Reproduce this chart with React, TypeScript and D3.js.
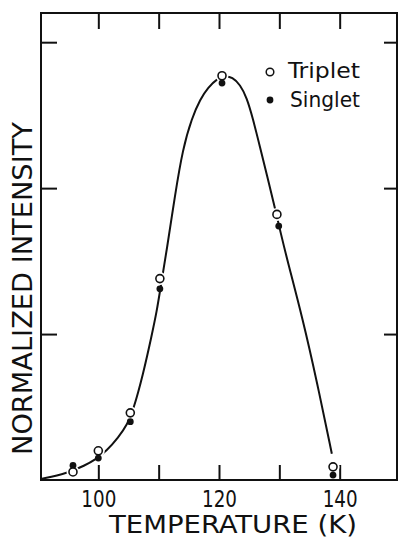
import React, { useEffect, useRef } from 'react';
import * as d3 from 'd3';

// measured points (temperature in K, normalized intensity)
const tripletTemps = [95.8, 100, 105.3, 110.2, 120.5, 129.6, 138.9];
const tripletValues = [0.055, 0.2, 0.46, 1.38, 2.77, 1.82, 0.09];
const singletTemps = [95.8, 100, 105.3, 110.2, 120.5, 129.9, 138.9];
const singletValues = [0.1, 0.15, 0.4, 1.31, 2.72, 1.74, 0.034];

// hand-drawn guide curve
const fitTemps = [90.5, 94.8, 97.8, 99.5, 101.4, 103.3, 104.8, 105.8, 107.4, 108.9, 109.7, 110.2, 111.4, 112.7, 114.0, 115.5, 116.9, 118.2, 119.7, 121.0, 122.2, 123.5, 124.6, 125.6, 126.8, 128.0, 129.0, 130.3, 131.3, 133.9, 136.2, 138.7];
const fitValues = [0.007, 0.045, 0.1, 0.14, 0.2, 0.29, 0.38, 0.48, 0.72, 1.0, 1.16, 1.29, 1.59, 1.95, 2.27, 2.48, 2.61, 2.69, 2.75, 2.77, 2.76, 2.71, 2.62, 2.48, 2.28, 2.08, 1.91, 1.68, 1.51, 1.1, 0.68, 0.18];

const xTicks = [100, 110, 120, 130, 140];
const xTickLabels = ['100', '', '120', '', '140'];
const yTicks = [1, 2, 3];

const W = 399;
const H = 540;
const FONT = '"DejaVu Sans Condensed", "DejaVu Sans", sans-serif';

const App: React.FC = () => {
  const svgRef = useRef<SVGSVGElement>(null);

  useEffect(() => {
    if (!svgRef.current) return;
    const svg = d3.select(svgRef.current);
    svg.selectAll('*').remove();

    const left = 41, right = 397, top = 13, bottom = 480;
    const x = d3.scaleLinear().domain([90.5, 149.5]).range([left, right]);
    const y = d3.scaleLinear().domain([0, 3.2]).range([bottom, top]);

    // frame
    svg.append('rect')
      .attr('x', left).attr('y', top)
      .attr('width', right - left).attr('height', bottom - top)
      .attr('fill', 'none').attr('stroke', '#111').attr('stroke-width', 2);

    const styleAxis = (g: d3.Selection<SVGGElement, unknown, null, undefined>) => {
      g.select('.domain').remove();
      g.selectAll('.tick line').attr('stroke', '#111').attr('stroke-width', 2);
    };

    // bottom axis with inward ticks
    const xb = svg.append('g')
      .attr('transform', `translate(0,${bottom})`)
      .call(d3.axisBottom(x).tickValues(xTicks).tickSizeInner(-15).tickSizeOuter(0)
        .tickFormat((d, i) => xTickLabels[i]));
    styleAxis(xb);
    xb.selectAll('.tick text')
      .attr('y', 27).attr('dy', 0)
      .attr('font-family', FONT).attr('font-size', 23).attr('fill', '#111')
      .attr('textLength', function () { return (this as SVGTextElement).textContent ? 35 : null; })
      .attr('lengthAdjust', 'spacingAndGlyphs');

    const xt = svg.append('g')
      .attr('transform', `translate(0,${top})`)
      .call(d3.axisTop(x).tickValues(xTicks).tickSizeInner(-16).tickSizeOuter(0).tickFormat(() => ''));
    styleAxis(xt);

    const yl = svg.append('g')
      .attr('transform', `translate(${left},0)`)
      .call(d3.axisLeft(y).tickValues(yTicks).tickSizeInner(-16).tickSizeOuter(0).tickFormat(() => ''));
    styleAxis(yl);

    const yr = svg.append('g')
      .attr('transform', `translate(${right},0)`)
      .call(d3.axisRight(y).tickValues(yTicks).tickSizeInner(-13).tickSizeOuter(0).tickFormat(() => ''));
    styleAxis(yr);

    // curve
    const fit = fitTemps.map((t, i) => [t, fitValues[i]] as [number, number]);
    const line = d3.line<[number, number]>()
      .x(d => x(d[0])).y(d => y(d[1]))
      .curve(d3.curveBasis);
    svg.append('path')
      .attr('d', line(fit))
      .attr('fill', 'none').attr('stroke', '#111').attr('stroke-width', 2);

    // white gaps around the open markers
    svg.append('g').selectAll('circle')
      .data(tripletTemps.map((t, i) => [t, tripletValues[i]]))
      .enter().append('circle')
      .attr('cx', d => x(d[0])).attr('cy', d => y(d[1]))
      .attr('r', 6.5).attr('fill', '#fff');

    svg.append('g').selectAll('circle')
      .data(singletTemps.map((t, i) => [t, singletValues[i]]))
      .enter().append('circle')
      .attr('cx', d => x(d[0])).attr('cy', d => y(d[1]))
      .attr('r', 3.4).attr('fill', '#111');

    svg.append('g').selectAll('circle')
      .data(tripletTemps.map((t, i) => [t, tripletValues[i]]))
      .enter().append('circle')
      .attr('cx', d => x(d[0])).attr('cy', d => y(d[1]))
      .attr('r', 4).attr('fill', '#fff').attr('stroke', '#111').attr('stroke-width', 1.6);

    // legend
    const lg = svg.append('g').attr('font-family', FONT).attr('font-size', 21).attr('fill', '#111');
    lg.append('circle').attr('cx', 270).attr('cy', 72).attr('r', 3.8)
      .attr('fill', '#fff').attr('stroke', '#111').attr('stroke-width', 1.5);
    lg.append('text').attr('x', 288).attr('y', 78).attr('textLength', 72)
      .attr('lengthAdjust', 'spacingAndGlyphs').text('Triplet');
    lg.append('circle').attr('cx', 270).attr('cy', 100).attr('r', 3.4).attr('fill', '#111');
    lg.append('text').attr('x', 290).attr('y', 107).attr('textLength', 70)
      .attr('lengthAdjust', 'spacingAndGlyphs').text('Singlet');

    // axis titles
    svg.append('text')
      .attr('x', 109).attr('y', 533)
      .attr('font-family', FONT).attr('font-size', 25).attr('fill', '#111')
      .attr('textLength', 248).attr('lengthAdjust', 'spacingAndGlyphs')
      .text('TEMPERATURE (K)');

    svg.append('text')
      .attr('transform', `translate(32,${455}) rotate(-90)`)
      .attr('font-family', FONT).attr('font-size', 27).attr('fill', '#111')
      .attr('textLength', 333).attr('lengthAdjust', 'spacingAndGlyphs')
      .text('NORMALIZED INTENSITY');
  }, []);

  return (
    <svg
      ref={svgRef}
      width={W}
      height={H}
      style={{ position: 'absolute', left: 0, top: 0, background: '#fff' }}
    />
  );
};

export default App;
